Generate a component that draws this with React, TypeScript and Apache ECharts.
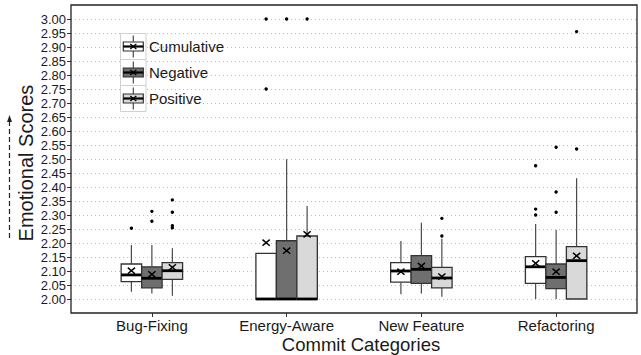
import React, { useEffect, useRef } from "react";
import * as echarts from "echarts";

const categories = ["Bug-Fixing", "Energy-Aware", "New Feature", "Refactoring"];
const groups = ["Cumulative", "Negative", "Positive"];
const fills = ["#ffffff", "#6f6f6f", "#d9d9d9"];
const yTickValues = [2.0, 2.05, 2.1, 2.15, 2.2, 2.25, 2.3, 2.35, 2.4, 2.45, 2.5, 2.55, 2.6, 2.65, 2.7, 2.75, 2.8, 2.85, 2.9, 2.95, 3.0];
const yLabelsA = yTickValues.filter((_, i) => i % 2 === 0);
const yLabelsB = yTickValues.filter((_, i) => i % 2 === 1);

// [whiskerLow, Q1, median, Q3, whiskerHigh] per category
const cumulativeBox = [
  [2.026, 2.062, 2.086, 2.125, 2.193],
  [2.0, 2.0, 2.0, 2.163, 2.163],
  [2.017, 2.06, 2.1, 2.13, 2.207],
  [2.0, 2.056, 2.115, 2.151, 2.268],
];
const negativeBox = [
  [2.02, 2.04, 2.074, 2.115, 2.193],
  [2.0, 2.0, 2.0, 2.208, 2.499],
  [2.02, 2.056, 2.106, 2.155, 2.2725],
  [2.0, 2.037, 2.077, 2.125, 2.246],
];
const positiveBox = [
  [2.012, 2.07, 2.101, 2.13, 2.181],
  [2.0, 2.0, 2.0, 2.225, 2.332],
  [2.008, 2.04, 2.075, 2.113, 2.215],
  [2.0, 2.0, 2.137, 2.187, 2.431],
];
const cumulativeMean = [2.101, 2.201, 2.0975, 2.1275];
const negativeMean = [2.088, 2.1725, 2.118, 2.0975];
const positiveMean = [2.113, 2.231, 2.08, 2.154];

// outliers: [categoryIndex, value]
const cumulativeOutliers = [[0, 2.2525], [1, 3.0], [1, 2.75], [3, 2.321], [3, 2.3], [3, 2.476]];
const negativeOutliers = [[0, 2.313], [0, 2.2775], [1, 3.0], [3, 2.31], [3, 2.382], [3, 2.542]];
const positiveOutliers = [[0, 2.354], [0, 2.31], [0, 2.254], [0, 2.262], [1, 3.0], [2, 2.288], [2, 2.225], [3, 2.536], [3, 2.955]];

const FONT = "'Liberation Sans', Arial, Helvetica, sans-serif";
const TEXT = "#1a1a1a";
const BOX_RATIO = 0.152;

function boxData(box: number[][], mean: number[]) {
  return box.map((b, i) => [i, b[0], b[1], b[2], b[3], b[4], mean[i]]);
}

function makeBoxRender(k: number, fill: string) {
  return (_params: any, api: any) => {
    const idx = api.value(0);
    const band = api.size([1, 0])[0];
    const w = band * BOX_RATIO;
    const cx = api.coord([idx, api.value(3)])[0] + (k - 1) * w;
    const yLow = api.coord([idx, api.value(1)])[1];
    const yQ1 = api.coord([idx, api.value(2)])[1];
    const yMed = api.coord([idx, api.value(3)])[1];
    const yQ3 = api.coord([idx, api.value(4)])[1];
    const yHigh = api.coord([idx, api.value(5)])[1];
    const yMean = api.coord([idx, api.value(6)])[1];
    const x0 = cx - w / 2;
    const children: any[] = [];
    if (yHigh < yQ3 - 0.5) {
      children.push({ type: "line", shape: { x1: cx, y1: yHigh, x2: cx, y2: yQ3 }, style: { stroke: "#4a4a4a", lineWidth: 1.2 } });
    }
    if (yLow > yQ1 + 0.5) {
      children.push({ type: "line", shape: { x1: cx, y1: yQ1, x2: cx, y2: yLow }, style: { stroke: "#4a4a4a", lineWidth: 1.2 } });
    }
    children.push({ type: "rect", shape: { x: x0, y: yQ3, width: w, height: yQ1 - yQ3 }, style: { fill, stroke: "#333", lineWidth: 1.3 } });
    children.push({ type: "line", shape: { x1: x0, y1: yMed, x2: x0 + w, y2: yMed }, style: { stroke: "#000", lineWidth: 2.8 } });
    const s = 3.6;
    children.push({ type: "line", shape: { x1: cx - s, y1: yMean - s * 0.85, x2: cx + s, y2: yMean + s * 0.85 }, style: { stroke: "#000", lineWidth: 1.5 } });
    children.push({ type: "line", shape: { x1: cx - s, y1: yMean + s * 0.85, x2: cx + s, y2: yMean - s * 0.85 }, style: { stroke: "#000", lineWidth: 1.5 } });
    return { type: "group", children };
  };
}

function makeOutlierRender(k: number) {
  return (_params: any, api: any) => {
    const idx = api.value(0);
    const band = api.size([1, 0])[0];
    const w = band * BOX_RATIO;
    const p = api.coord([idx, api.value(1)]);
    return { type: "circle", shape: { cx: p[0] + (k - 1) * w, cy: p[1], r: 1.7 }, style: { fill: "#000" } };
  };
}

function legendGraphics() {
  const out: any[] = [];
  groups.forEach((g, r) => {
    const top = 33.5 + r * 26;
    const cy = top + 13;
    const cx = 133.3;
    out.push(
      { type: "rect", z: 100, shape: { x: 120.5, y: top, width: 25.5, height: 26 }, style: { fill: "#fff", stroke: "#d0d0d0", lineWidth: 1 } },
      { type: "line", z: 101, shape: { x1: cx, y1: top + 2, x2: cx, y2: top + 24 }, style: { stroke: "#4a4a4a", lineWidth: 1.2 } },
      { type: "rect", z: 102, shape: { x: 123.3, y: cy - 4.5, width: 20, height: 9 }, style: { fill: fills[r], stroke: "#333", lineWidth: 1.2 } },
      { type: "line", z: 103, shape: { x1: 123.3, y1: cy, x2: 143.3, y2: cy }, style: { stroke: "#000", lineWidth: 2.2 } },
      { type: "line", z: 104, shape: { x1: cx - 3, y1: cy - 2.6, x2: cx + 3, y2: cy + 2.6 }, style: { stroke: "#000", lineWidth: 1.3 } },
      { type: "line", z: 104, shape: { x1: cx - 3, y1: cy + 2.6, x2: cx + 3, y2: cy - 2.6 }, style: { stroke: "#000", lineWidth: 1.3 } },
      { type: "text", z: 105, x: 149, y: cy, style: { text: g, fontSize: 15, fontFamily: FONT, fill: TEXT, verticalAlign: "middle", textVerticalAlign: "middle" } }
    );
  });
  return out;
}

function labelAxis(values: number[], withGrid: boolean) {
  return {
    gridIndex: 0,
    type: "value",
    position: "left",
    offset: 0,
    min: 1.95,
    max: 3.05,
    interval: 0.05,
    axisLine: { show: false },
    axisTick: withGrid
      ? { show: true, length: 4, lineStyle: { color: "#333" }, customValues: yTickValues }
      : { show: false },
    axisLabel: {
      fontSize: 13,
      lineHeight: 13,
      color: TEXT,
      margin: 5,
      fontFamily: FONT,
      showMinLabel: true,
      showMaxLabel: true,
      customValues: values,
      formatter: (v: number) => (v < 1.999 || v > 3.001 ? "" : v.toFixed(2)),
    },
    splitLine: withGrid
      ? { show: true, lineStyle: { color: "#bdbdbd", type: [1, 3], width: 1 } }
      : { show: false },
  };
}

export default function App() {
  const ref = useRef<HTMLDivElement>(null);
  useEffect(() => {
    if (!ref.current) return;
    const chart = echarts.init(ref.current, undefined, { renderer: "svg" });
    const boxSets = [
      boxData(cumulativeBox, cumulativeMean),
      boxData(negativeBox, negativeMean),
      boxData(positiveBox, positiveMean),
    ];
    const outlierSets = [cumulativeOutliers, negativeOutliers, positiveOutliers];
    const series: any[] = [];
    groups.forEach((g, k) => {
      series.push({
        name: g,
        type: "custom",
        xAxisIndex: 1,
        yAxisIndex: 1,
        data: boxSets[k],
        encode: { x: 0, y: [1, 2, 3, 4, 5, 6] },
        renderItem: makeBoxRender(k, fills[k]),
        z: 3,
      });
      series.push({
        name: g + " outliers",
        type: "custom",
        xAxisIndex: 1,
        yAxisIndex: 1,
        data: outlierSets[k],
        encode: { x: 0, y: 1 },
        renderItem: makeOutlierRender(k),
        z: 4,
      });
    });
    const option: any = {
      animation: false,
      backgroundColor: "#fff",
      textStyle: { fontFamily: FONT },
      grid: [
        { left: 71, top: 5, width: 566, height: 308, show: true, borderColor: "#222", borderWidth: 1.3, backgroundColor: "transparent", z: 5 },
        { left: 84.5, top: 5, width: 539, height: 308, show: false },
      ],
      xAxis: [
        { gridIndex: 0, type: "value", min: 0, max: 1, show: false },
        {
          gridIndex: 1,
          type: "category",
          data: categories,
          axisLine: { show: false },
          axisTick: { show: true, alignWithLabel: true, length: 4, lineStyle: { color: "#333" } },
          axisLabel: { fontSize: 15, color: TEXT, margin: 5, fontFamily: FONT },
          splitLine: { show: false },
        },
      ],
      yAxis: [
        labelAxis(yLabelsA, true),
        { gridIndex: 1, type: "value", min: 1.95, max: 3.05, show: false, splitLine: { show: false } },
        labelAxis(yLabelsB, false),
      ],
      series,
      graphic: [
        ...legendGraphics(),
        {
          type: "text",
          x: 26,
          y: 163,
          rotation: Math.PI / 2,
          style: { text: "Emotional Scores", fontSize: 20, fontFamily: FONT, fill: TEXT, align: "center", verticalAlign: "middle", textAlign: "center", textVerticalAlign: "middle" },
        },
        {
          type: "text",
          x: 361,
          y: 344,
          style: { text: "Commit Categories", fontSize: 18.5, fontFamily: FONT, fill: TEXT, align: "center", verticalAlign: "middle", textAlign: "center", textVerticalAlign: "middle" },
        },
        { type: "line", shape: { x1: 9.5, y1: 238, x2: 9.5, y2: 121 }, style: { stroke: "#222", lineWidth: 1.2, lineDash: [5, 3] } },
        { type: "polygon", shape: { points: [[7, 122], [12, 122], [9.5, 115]] }, style: { fill: "#222" } },
      ],
    };
    chart.setOption(option);
    return () => chart.dispose();
  }, []);
  return <div ref={ref} style={{ position: "fixed", left: 0, top: 0, width: 641, height: 355 }} />;
}
